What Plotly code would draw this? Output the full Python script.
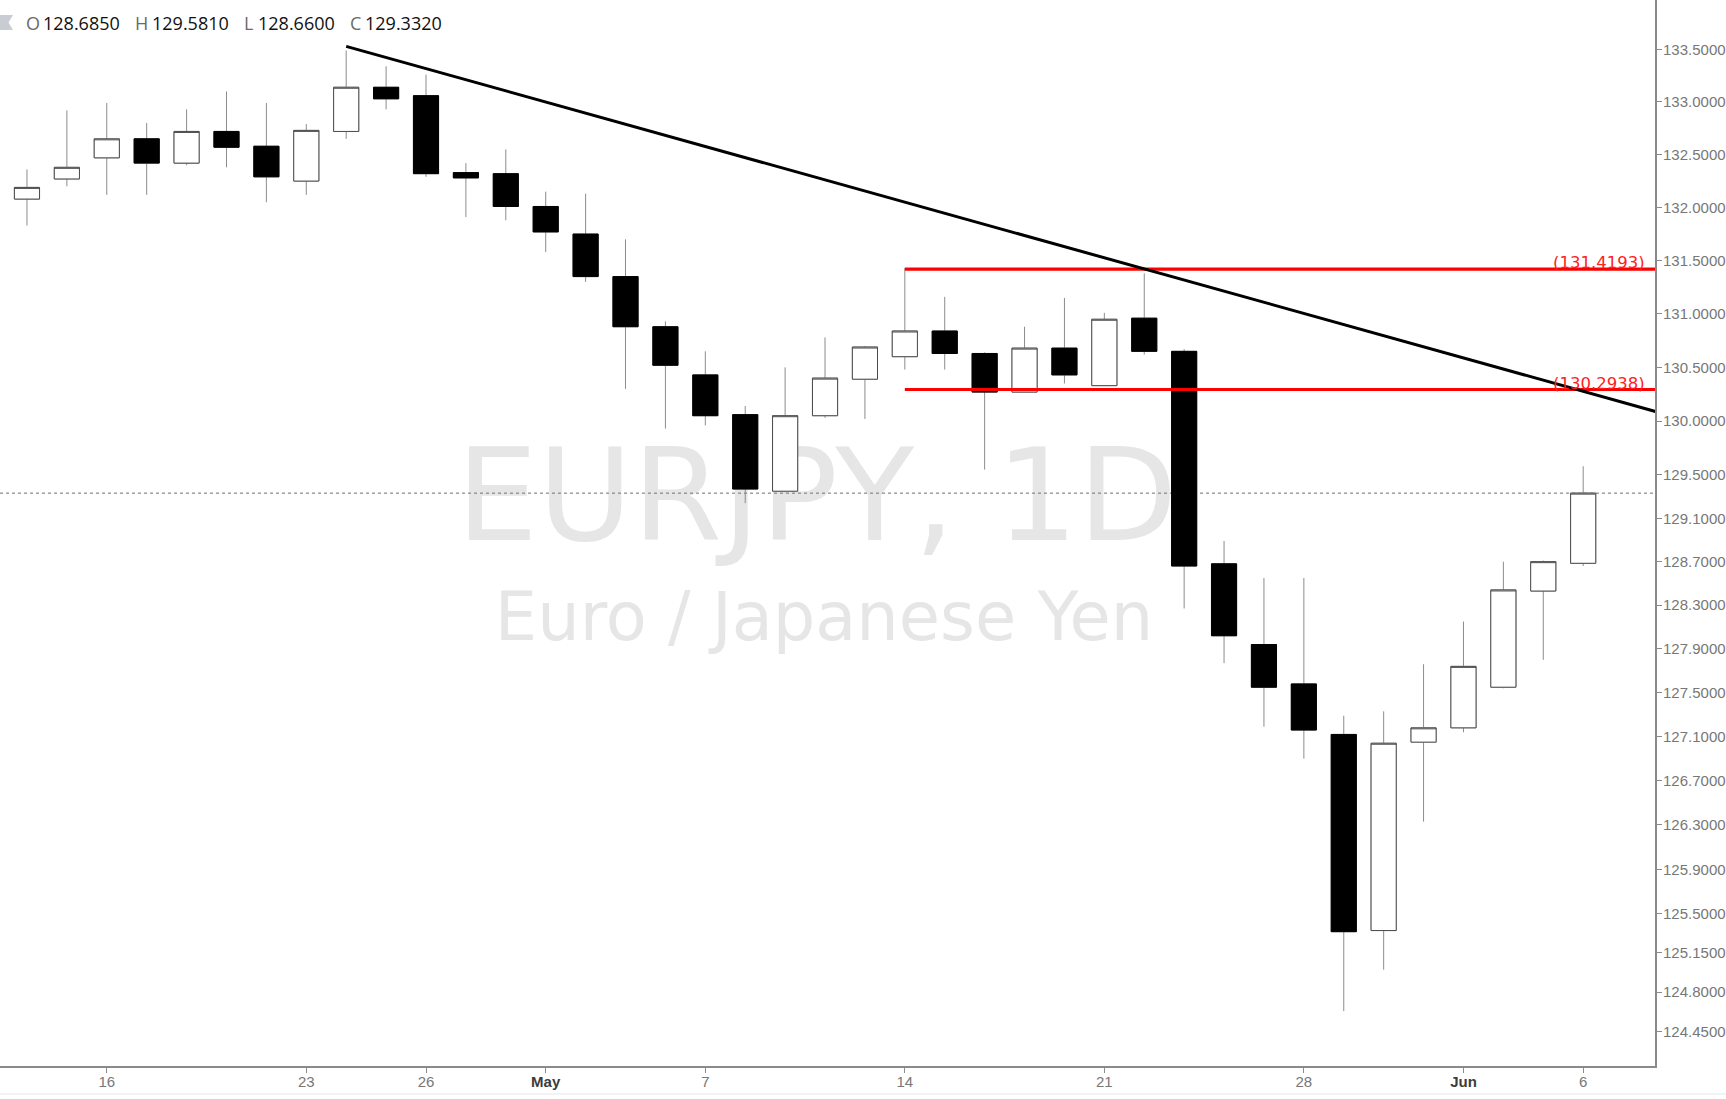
import math
import numpy as np
import pandas as pd
import plotly.graph_objects as go

# ---------------- data ----------------
dates = ["2018-04-12", "2018-04-13", "2018-04-16", "2018-04-17", "2018-04-18", "2018-04-19",
         "2018-04-20", "2018-04-23", "2018-04-24", "2018-04-25", "2018-04-26", "2018-04-27",
         "2018-04-30", "2018-05-01", "2018-05-02", "2018-05-03", "2018-05-04", "2018-05-07",
         "2018-05-08", "2018-05-09", "2018-05-10", "2018-05-11", "2018-05-14", "2018-05-15",
         "2018-05-16", "2018-05-17", "2018-05-18", "2018-05-21", "2018-05-22", "2018-05-23",
         "2018-05-24", "2018-05-25", "2018-05-28", "2018-05-29", "2018-05-30", "2018-05-31",
         "2018-06-01", "2018-06-04", "2018-06-05", "2018-06-06"]
opens = [132.08, 132.27, 132.47, 132.65, 132.42, 132.72, 132.58, 132.25, 132.72, 133.14,
         133.06, 132.33, 132.32, 132.01, 131.75, 131.35, 130.88, 130.43, 130.06, 129.35,
         130.05, 130.39, 130.60, 130.84, 130.63, 130.27, 130.68, 130.33, 130.96, 130.65,
         128.68, 127.94, 127.58, 127.12, 125.35, 127.05, 127.18, 127.55, 128.43, 128.685]
highs = [132.36, 132.92, 132.99, 132.80, 132.93, 133.10, 132.99, 132.79, 133.49, 133.34,
         133.26, 132.42, 132.55, 132.15, 132.13, 131.70, 130.93, 130.65, 130.14, 130.50,
         130.78, 130.70, 131.43, 131.16, 130.64, 130.88, 131.15, 131.01, 131.38, 130.67,
         128.89, 128.55, 128.55, 127.29, 127.33, 127.76, 128.15, 128.70, 128.71, 129.581]
lows = [131.83, 132.20, 132.12, 132.12, 132.40, 132.38, 132.05, 132.12, 132.65, 132.93,
        132.29, 131.91, 131.88, 131.58, 131.30, 130.30, 129.93, 129.96, 129.24, 129.34,
        130.03, 130.02, 130.48, 130.48, 129.55, 130.27, 130.35, 130.33, 130.62, 128.27,
        127.77, 127.19, 126.90, 124.63, 125.00, 126.33, 127.14, 127.54, 127.80, 128.66]
closes = [132.19, 132.38, 132.65, 132.42, 132.72, 132.57, 132.29, 132.73, 133.14, 133.03,
          132.32, 132.28, 132.01, 131.77, 131.35, 130.88, 130.52, 130.05, 129.37, 130.05,
          130.40, 130.69, 130.84, 130.63, 130.27, 130.68, 130.43, 130.95, 130.65, 128.66,
          128.02, 127.55, 127.16, 125.34, 127.04, 127.18, 127.74, 128.44, 128.70, 129.332]

ytick_vals = [133.5, 133.0, 132.5, 132.0, 131.5, 131.0, 130.5, 130.0, 129.5, 129.1, 128.7,
              128.3, 127.9, 127.5, 127.1, 126.7, 126.3, 125.9, 125.5, 125.15, 124.8, 124.45]
xtick_dates = ["2018-04-16", "2018-04-23", "2018-04-26", "2018-05-01", "2018-05-07",
               "2018-05-14", "2018-05-21", "2018-05-28", "2018-06-01", "2018-06-06"]
xtick_labels = ["16", "23", "26", "May", "7", "14", "21", "28", "Jun", "6"]
month_labels = ["May", "Jun"]

levels = [131.4193, 130.2938]
level_dates = ["2018-05-14", "2018-06-08"]
trend_dates = ["2018-04-24", "2018-06-08"]
trend_prices = [133.53, 130.07]

symbol = "EURJPY, 1D"
description = "Euro / Japanese Yen"

# ---------------- helpers ----------------
cal = pd.bdate_range("2018-04-12", "2018-06-15")
pos = {d.strftime("%Y-%m-%d"): i for i, d in enumerate(cal)}
xs = [pos[d] for d in dates]

W, H = 1726, 1099
ML, MR, MT, MB = 0, 71, 0, 33
PW, PH = W - ML - MR, H - MT - MB
x_range = [-0.676, 40.80]
y_range = [2.093919, 2.127018]


def px_x(p):
    return (p - ML) / PW


def px_y(p):
    return 1 - (p - MT) / PH


def price_to_paper(p):
    return (math.log10(p) - y_range[0]) / (y_range[1] - y_range[0])


body_hi = list(np.maximum(opens, closes))
body_lo = list(np.minimum(opens, closes))

fig = go.Figure()

# wicks
fig.add_trace(go.Candlestick(
    x=xs, open=opens, high=highs, low=lows, close=closes,
    increasing=dict(line=dict(color="#8c8c8c", width=1), fillcolor="white"),
    decreasing=dict(line=dict(color="#8c8c8c", width=1), fillcolor="black"),
    hoverinfo="skip"))
# bodies
fig.add_trace(go.Candlestick(
    x=xs, open=opens, high=body_hi, low=body_lo, close=closes,
    increasing=dict(line=dict(color="#4a4a4a", width=1), fillcolor="white"),
    decreasing=dict(line=dict(color="#000000", width=1), fillcolor="black"),
    hoverinfo="skip"))

# horizontal levels
for lv in levels:
    fig.add_trace(go.Scatter(
        x=[pos[level_dates[0]], pos[level_dates[1]]], y=[lv, lv],
        mode="lines", line=dict(color="#ff0000", width=3.2), hoverinfo="skip"))

# trend line
fig.add_trace(go.Scatter(
    x=[pos[d] for d in trend_dates], y=trend_prices,
    mode="lines", line=dict(color="#000000", width=3), hoverinfo="skip"))

annotations = []
for lv in levels:
    annotations.append(dict(
        xref="paper", yref="y", x=px_x(1647), y=math.log10(lv),
        xanchor="right", yanchor="bottom", yshift=-5, showarrow=False,
        text="(%.4f)" % lv,
        font=dict(family="DejaVu Sans", size=16.5, color="#ff2020")))

# OHLC header
ohlc = [("O", opens[-1]), ("H", highs[-1]), ("L", lows[-1]), ("C", closes[-1])]
letter_px = [24, 133, 242, 348]
num_px = [41, 149.5, 256, 363]
for (lab, val), lx, nx in zip(ohlc, letter_px, num_px):
    annotations.append(dict(
        xref="paper", yref="paper", x=px_x(lx), y=px_y(23), xanchor="left", yanchor="middle",
        showarrow=False, text=lab,
        font=dict(family="Open Sans", size=18, color="#6a6a6a")))
    annotations.append(dict(
        xref="paper", yref="paper", x=px_x(nx), y=px_y(23), xanchor="left", yanchor="middle",
        showarrow=False, text="%.4f" % val,
        font=dict(family="Open Sans", size=18, color="#111111")))

shapes = [
    # watermark (below the candles)
    dict(type="rect", xref="paper", yref="paper", layer="below",
         x0=px_x(817) - 0.3, x1=px_x(817) + 0.3, y0=px_y(486) - 0.06, y1=px_y(486) + 0.06,
         line=dict(width=0), fillcolor="rgba(0,0,0,0)",
         label=dict(text=symbol, textposition="middle center",
                    font=dict(family="DejaVu Sans", size=129, color="#e6e6e6"))),
    dict(type="rect", xref="paper", yref="paper", layer="below",
         x0=px_x(824) - 0.3, x1=px_x(824) + 0.3, y0=px_y(612) - 0.03, y1=px_y(612) + 0.03,
         line=dict(width=0), fillcolor="rgba(0,0,0,0)",
         label=dict(text=description, textposition="middle center",
                    font=dict(family="DejaVu Sans", size=67, color="#e6e6e6"))),
    # last price dotted line (below the candles)
    dict(type="line", xref="paper", yref="paper", layer="below", x0=0, x1=1,
         y0=price_to_paper(closes[-1]), y1=price_to_paper(closes[-1]),
         line=dict(color="#707070", width=1, dash="dot")),
    # legend icon
    dict(type="path", xref="paper", yref="paper",
         path="M %f %f L %f %f L %f %f L %f %f L %f %f Z" % (
             px_x(0), px_y(15), px_x(13), px_y(15), px_x(8.5), px_y(22.5),
             px_x(13), px_y(30), px_x(0), px_y(30)),
         fillcolor="#c9cdd3", line=dict(width=0)),
    # bottom separator
    dict(type="line", xref="paper", yref="paper", x0=px_x(0), x1=px_x(W), y0=px_y(1094),
         y1=px_y(1094), line=dict(color="#e3e6ec", width=1)),
]

xt_text = []
for t in xtick_labels:
    if t in month_labels:
        xt_text.append("<span style='color:#3c3c3c'><b>%s</b></span>" % t)
    else:
        xt_text.append(t)

fig.update_layout(
    width=W, height=H,
    margin=dict(l=ML, r=MR, t=MT, b=MB, pad=0, autoexpand=False),
    paper_bgcolor="white", plot_bgcolor="white",
    showlegend=False, boxgap=0.37, boxgroupgap=0,
    annotations=annotations, shapes=shapes,
    xaxis=dict(range=x_range, tickmode="array", tickvals=[pos[d] for d in xtick_dates],
               ticktext=xt_text, showgrid=False, zeroline=False, showline=True,
               linecolor="#8a8a8a", linewidth=2, ticks="outside", ticklen=5,
               tickcolor="#8a8a8a", tickwidth=1, ticklabelstandoff=-4,
               tickfont=dict(family="Liberation Sans", size=15, color="#777777"),
               rangeslider=dict(visible=False), fixedrange=True),
    yaxis=dict(type="log", range=y_range, side="right", tickmode="array",
               tickvals=ytick_vals, ticktext=["%.4f" % v for v in ytick_vals],
               showgrid=False, zeroline=False, showline=True, linecolor="#8a8a8a",
               linewidth=2, ticks="outside", ticklen=5, tickcolor="#8a8a8a", tickwidth=1,
               ticklabelstandoff=-2,
               tickfont=dict(family="Liberation Sans", size=15, color="#777777"),
               fixedrange=True),
)

fig.write_html("out.html", config={"displayModeBar": False},
               post_script="document.body.style.margin='0px';")
